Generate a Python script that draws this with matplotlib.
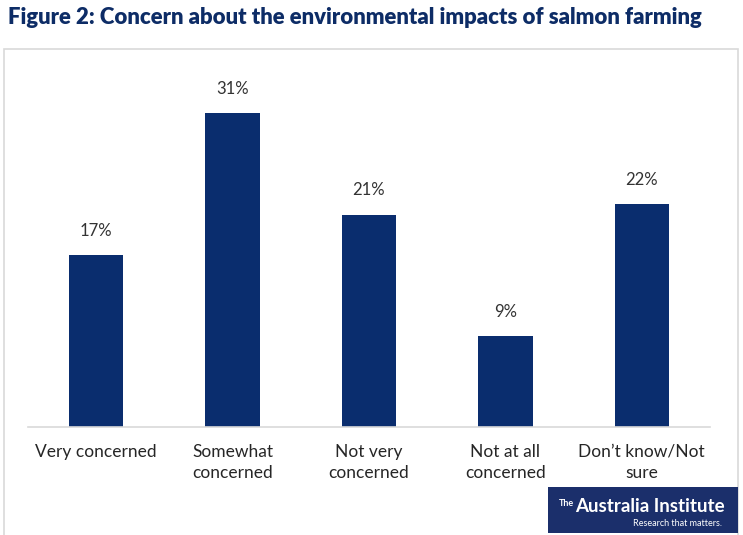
import matplotlib.pyplot as plt
from matplotlib.patches import Rectangle

categories = ['Very concerned', 'Somewhat\nconcerned', 'Not very\nconcerned',
              'Not at all\nconcerned', 'Don\u2019t know/Not\nsure']
values = [17, 31, 21, 9, 22]
labels = ['17%', '31%', '21%', '9%', '22%']

navy = '#0a2d6e'
plt.rcParams['font.family'] = ['Lato', 'DejaVu Sans']

fig = plt.figure(figsize=(7.43, 5.35), dpi=100)

# outer chart frame
fig.patches.append(Rectangle((4 / 743, -0.01), 734 / 743, (535 - 49) / 535 + 0.01,
                             transform=fig.transFigure, fill=False,
                             edgecolor='#d9d9d9', linewidth=1.2))

fig.text(8 / 743, 1 - 18 / 535, 'Figure 2: Concern about the environmental impacts of salmon farming',
         fontsize=15.9, fontweight='heavy', color='#0d2c66', va='center', ha='left')

ax = fig.add_axes([28 / 743, (535 - 427) / 535, 682 / 743, 354 / 535])
x = range(len(categories))
bars = ax.bar(x, values, width=0.4, color=navy)
for b, lab in zip(bars, labels):
    ax.text(b.get_x() + b.get_width() / 2, b.get_height() + 1.6, lab,
            ha='center', va='bottom', fontsize=12, color='#333333')

ax.set_xlim(-0.5, 4.5)
ax.set_ylim(0, 35)
ax.set_xticks(list(x))
ax.set_xticklabels(categories, fontsize=12.5, color='#262626', linespacing=1.4)
ax.tick_params(axis='x', length=0, pad=12)
ax.set_yticks([])
for s in ['top', 'right', 'left']:
    ax.spines[s].set_visible(False)
ax.spines['bottom'].set_color('#d9d9d9')
ax.spines['bottom'].set_linewidth(1.2)

# logo
fig.patches.append(Rectangle((548 / 743, 2 / 535), 190 / 743, 46 / 535,
                             transform=fig.transFigure, facecolor='#1b2f6b',
                             edgecolor='none', zorder=5))
fig.text(559 / 743, 1 - 503 / 535, 'The', fontsize=6.5, color='white', va='center',
         ha='left', zorder=6, fontweight='bold')
fig.text(575 / 743, 1 - 507 / 535, 'Australia Institute', fontsize=13.5, color='white',
         va='center', ha='left', zorder=6, fontweight='bold')
fig.text(722 / 743, 1 - 524 / 535, 'Research that matters.', fontsize=6.5, color='white',
         va='center', ha='right', zorder=6)

fig.savefig('out.png', dpi=100)
